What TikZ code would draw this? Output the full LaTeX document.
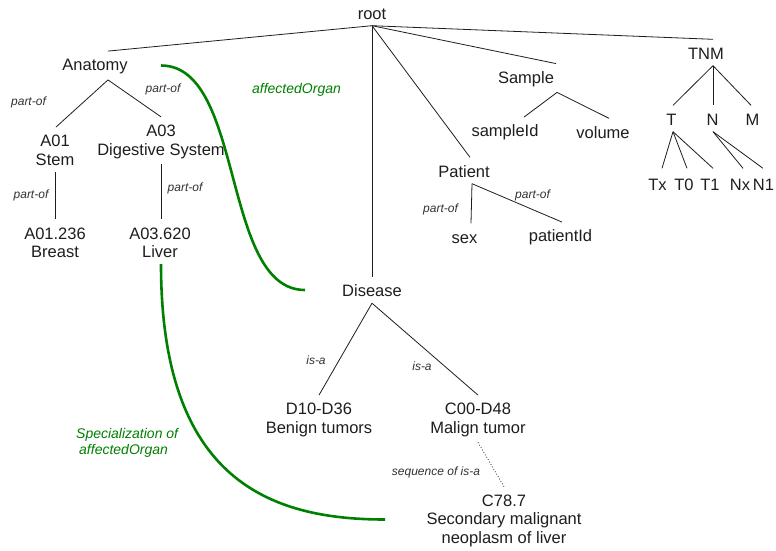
\documentclass[tikz,border=0pt]{standalone}
\usepackage{fontspec}
\setmainfont{Liberation Sans}
\definecolor{okgreen}{RGB}{0,128,0}
\definecolor{txt}{RGB}{30,30,30}
\definecolor{lbltxt}{RGB}{50,50,50}
\newcommand\lnstrut{\rule[-1pt]{0pt}{15pt}}
\begin{document}
\begin{tikzpicture}[x=1pt,y=-1pt,
  concept/.style={font=\fontsize{16.5}{18.5}\selectfont, text=txt, align=center, inner xsep=2pt, inner ysep=5.5pt},
  edgelbl/.style={font=\fontsize{12}{14}\selectfont\itshape, text=lbltxt, inner sep=0pt},
  greenlbl/.style={font=\fontsize{14}{16}\selectfont\itshape, text=okgreen, inner sep=0pt},
  tree/.style={draw=txt, line width=0.8pt},
  rel/.style={draw=okgreen, line width=2.6pt},
  seq/.style={draw=txt, line width=0.8pt, dotted}]
\fill[white] (0,0) rectangle (776,550);
\useasboundingbox (0,0) rectangle (776,550);

% concept nodes
\node[concept] (root) at (372,12.5) {\lnstrut root};
\node[concept] (anat) at (95,65.5) {\lnstrut Anatomy};
\node[concept] (a01) at (55,149.5) {\lnstrut A01\\\lnstrut Stem};
\node[concept] (a03) at (161,140.5) {\lnstrut A03\\\lnstrut Digestive System};
\node[concept] (breast) at (55,241.75) {\lnstrut A01.236\\\lnstrut Breast};
\node[concept] (liver) at (160,241.75) {\lnstrut A03.620\\\lnstrut Liver};
\node[concept] (disease) at (372,290) {\lnstrut Disease};
\node[concept] (benign) at (319,418.75) {\lnstrut D10-D36\\\lnstrut Benign tumors};
\node[concept] (malign) at (478,418.75) {\lnstrut C00-D48\\\lnstrut Malign tumor};
\node[concept] (c787) at (504,519.5) {\lnstrut C78.7\\\lnstrut Secondary malignant\\\lnstrut neoplasm of liver};
\node[concept] (patient) at (464,170.5) {\lnstrut Patient};
\node[concept] (sex) at (464.5,236.5) {\lnstrut sex};
\node[concept] (pid) at (560.5,236.5) {\lnstrut patientId};
\node[concept] (sample) at (526,78) {\lnstrut Sample};
\node[concept] (sid) at (505,131.5) {\lnstrut sampleId};
\node[concept] (vol) at (603,131.5) {\lnstrut volume};
\node[concept] (tnm) at (706,52.5) {\lnstrut TNM};
\node[concept] (t) at (671.5,118.5) {\lnstrut T};
\node[concept] (n) at (712.5,118.5) {\lnstrut N};
\node[concept] (m) at (752.5,118.5) {\lnstrut M};
\node[concept] (tx) at (657.5,183.5) {\lnstrut Tx};
\node[concept] (t0) at (684,183.5) {\lnstrut T0};
\node[concept] (t1) at (710,183.5) {\lnstrut T1};
\node[concept] (nx) at (740,183.5) {\lnstrut Nx};
\node[concept] (n1) at (763.5,183.5) {\lnstrut N1};

% tree connectors
\draw[tree] (root.south) -- ([xshift=13pt]anat.north);
\draw[tree] (root.south) -- (disease.north);
\draw[tree] (root.south) -- ([xshift=6pt]patient.north);
\draw[tree] (root.south) -- ([xshift=30pt]sample.north);
\draw[tree] (root.south) -- ([xshift=7pt]tnm.north);
\draw[tree] ([xshift=13pt]anat.south) -- ([xshift=1pt]a01.north);
\draw[tree] ([xshift=13pt]anat.south) -- (a03.north);
\draw[tree] (a01.south) -- (breast.north);
\draw[tree] (a03.south) -- ([xshift=1pt]liver.north);
\draw[tree] (disease.south) -- (benign.north);
\draw[tree] (disease.south) -- (malign.north);
\draw[seq] (malign.south) -- (c787.north);
\draw[tree] ([xshift=8pt]patient.south) -- ([xshift=6.5pt]sex.north);
\draw[tree] ([xshift=8pt]patient.south) -- ([xshift=1.5pt]pid.north);
\draw[tree] ([xshift=31pt]sample.south) -- ([xshift=19pt]sid.north);
\draw[tree] ([xshift=31pt]sample.south) -- ([xshift=6pt]vol.north);
\draw[tree] ([xshift=7pt]tnm.south) -- ([xshift=1.5pt]t.north);
\draw[tree] ([xshift=7pt]tnm.south) -- ([xshift=0.5pt]n.north);
\draw[tree] ([xshift=7pt]tnm.south) -- ([xshift=-1.5pt]m.north);
\draw[tree] ([xshift=1.5pt]t.south) -- ([xshift=4.5pt,yshift=2pt]tx.north);
\draw[tree] ([xshift=1.5pt]t.south) -- ([xshift=3pt,yshift=2pt]t0.north);
\draw[tree] ([xshift=1.5pt]t.south) -- ([xshift=3pt,yshift=2pt]t1.north);
\draw[tree] ([xshift=0.5pt]n.south) -- ([xshift=3pt,yshift=2pt]nx.north);
\draw[tree] ([xshift=0.5pt]n.south) -- ([xshift=-0.5pt,yshift=2pt]n1.north);

% green relations
\draw[rel] ([xshift=66pt]anat.center) .. controls +(84,0) and +(-84,0) .. ([xshift=-67pt]disease.center);
\draw[rel] ([xshift=1pt]liver.south) .. controls +(0,216) and +(-115,0) .. ([xshift=-119pt]c787.center);

% labels
\node[edgelbl] (l1) at (28.5,102) {part-of};
\node[edgelbl] (l2) at (163,89) {part-of};
\node[edgelbl] (l3) at (31,195) {part-of};
\node[edgelbl] (l4) at (185,188) {part-of};
\node[edgelbl] (l5) at (440.5,209) {part-of};
\node[edgelbl] (l6) at (532.5,195) {part-of};
\node[edgelbl] (l7) at (316,360) {is-a};
\node[edgelbl] (l8) at (422,366) {is-a};
\node[edgelbl] (l9) at (436,472) {sequence of is-a};
\node[greenlbl] (g1) at (296.5,90) {affectedOrgan};
\node[greenlbl, align=left, anchor=west] (g2) at (76,443) {Specialization of\\\hspace{3pt}affectedOrgan};
\end{tikzpicture}
\end{document}
